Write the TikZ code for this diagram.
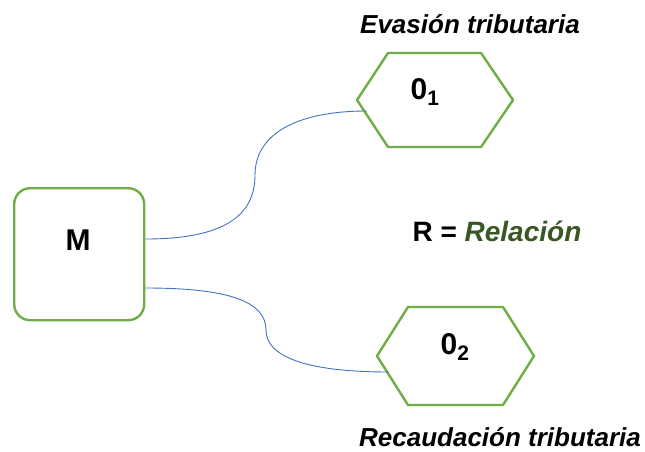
\documentclass[tikz,border=0pt]{standalone}
\usepackage{fontspec}
\setmainfont{Liberation Sans}
\usetikzlibrary{calc}
\definecolor{hexgreen}{HTML}{70AD47}
\definecolor{darkgreen}{HTML}{385723}
\definecolor{linkblue}{HTML}{4472C4}
\begin{document}
\begin{tikzpicture}[x=1pt,y=-1pt,
  frame/.style={draw=hexgreen,line width=2.4pt,line join=round},
  link/.style={draw=linkblue,line width=0.9pt},
  title/.style={font=\fontsize{26}{30}\selectfont\bfseries\itshape},
  label/.style={font=\fontsize{30}{34}\selectfont\bfseries}]
\useasboundingbox (0,0) rectangle (645,451);
% M box
\node[frame,rounded corners=16pt,minimum width=130pt,minimum height=132pt,
      inner sep=0pt,anchor=north west] (M) at (13,187) {};
\node[label] (Mt) at (78,240) {M};
% hexagon 1
\draw[frame] (357,100) -- (388,53) -- (481,53) -- (513,100) -- (481,147) -- (388,147) -- cycle;
\node[label] (O1) at (425,92) {0\textsubscript{1}};
\coordinate (h1in) at (367,111);
% hexagon 2
\draw[frame] (377,356) -- (408,307) -- (503,307) -- (534,356) -- (503,405) -- (408,405) -- cycle;
\node[label] (O2) at (455,347) {0\textsubscript{2}};
\coordinate (h2in) at (389,372);
% titles
\node[title] (T1) at (470,24) {Evasión tributaria};
\node[title] (T2) at (500,437) {Recaudación tributaria};
% relation
\node[font=\fontsize{28}{32}\selectfont\bfseries,anchor=west] (R) at (409,231)
  {R = \textcolor{darkgreen}{\itshape Relación}};
% connectors
\coordinate (m1) at ($(M.north east)+(0,52)$);
\coordinate (m2) at ($(M.north east)+(0,101)$);
\coordinate (c1) at (255,175);
\coordinate (c2) at (266,330);
\draw[link] (m1) .. controls (225,239) and (255,215) .. (c1)
                 .. controls (255,135) and (295,111) .. (h1in);
\draw[link] (m2) .. controls (230,288) and (266,302) .. (c2)
                 .. controls (266,358) and (310,372) .. (h2in);
\end{tikzpicture}
\end{document}
